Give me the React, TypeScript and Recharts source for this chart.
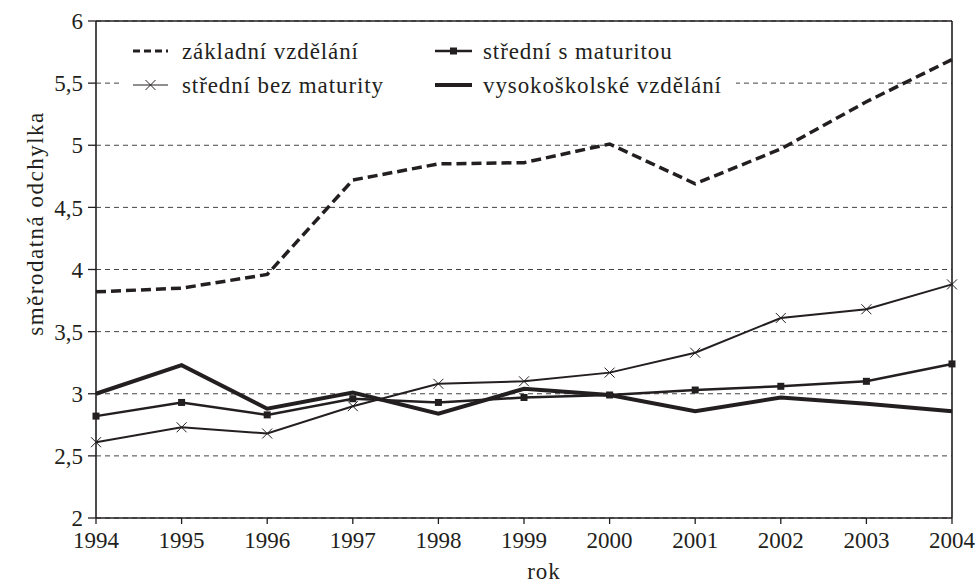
import {
  CartesianGrid,
  Legend,
  Line,
  LineChart,
  ReferenceLine,
  XAxis,
  YAxis,
} from "recharts";

const years = [1994, 1995, 1996, 1997, 1998, 1999, 2000, 2001, 2002, 2003, 2004];
const zakladni = [3.82, 3.85, 3.96, 4.72, 4.85, 4.86, 5.01, 4.69, 4.97, 5.35, 5.69];
const bezMaturity = [2.61, 2.73, 2.68, 2.9, 3.08, 3.1, 3.17, 3.33, 3.61, 3.68, 3.88];
const sMaturitou = [2.82, 2.93, 2.83, 2.96, 2.93, 2.97, 2.99, 3.03, 3.06, 3.1, 3.24];
const vysokoskolske = [3.0, 3.23, 2.88, 3.01, 2.84, 3.04, 2.99, 2.86, 2.97, 2.92, 2.86];
const yTicks = [2, 2.5, 3, 3.5, 4, 4.5, 5, 5.5, 6];

const data = years.map((rok, i) => ({
  rok,
  zakladni: zakladni[i],
  bezMaturity: bezMaturity[i],
  sMaturitou: sMaturitou[i],
  vysokoskolske: vysokoskolske[i],
}));

const INK = "#231f20";
const FONT = "'Liberation Serif', 'Times New Roman', serif";

const comma = (v: number) => String(v).replace(".", ",");

const Cross = (p: any) => {
  if (p.cx == null || p.cy == null) return <g key={p.key} />;
  const s = 5;
  return (
    <g key={p.key} stroke={INK} strokeWidth={1}>
      <line x1={p.cx - s} y1={p.cy - s} x2={p.cx + s} y2={p.cy + s} />
      <line x1={p.cx - s} y1={p.cy + s} x2={p.cx + s} y2={p.cy - s} />
    </g>
  );
};

const Square = (p: any) => {
  if (p.cx == null || p.cy == null) return <g key={p.key} />;
  return <rect key={p.key} x={p.cx - 3.5} y={p.cy - 3.5} width={7} height={7} fill={INK} />;
};

// legend drawn as one svg block with a white box behind it (hides the grid line)
function LegendBox() {
  const txt = { fontFamily: FONT, fontSize: 23, fill: INK, letterSpacing: 0.9 };
  return (
    <svg width={614} height={74} style={{ display: "block" }}>
      <rect x={0} y={0} width={614} height={74} fill="#fff" />
      <line x1={11} x2={46} y1={25} y2={25} stroke={INK} strokeWidth={3} strokeDasharray="7 4" />
      <text x={60} y={25} dominantBaseline="central" {...txt}>základní vzdělání</text>
      <line x1={11} x2={46} y1={59} y2={59} stroke={INK} strokeWidth={1.2} />
      <Cross cx={28.5} cy={59} />
      <text x={60} y={59} dominantBaseline="central" {...txt}>střední bez maturity</text>
      <line x1={313} x2={350} y1={25} y2={25} stroke={INK} strokeWidth={2.5} />
      <Square cx={331.5} cy={25} />
      <text x={361} y={25} dominantBaseline="central" {...txt}>střední s maturitou</text>
      <line x1={313} x2={350} y1={59} y2={59} stroke={INK} strokeWidth={4} />
      <text x={361} y={59} dominantBaseline="central" {...txt}>vysokoškolské vzdělání</text>
    </svg>
  );
}

const YLabel = (props: any) => {
  const vb = props.viewBox;
  const x = 35;
  const y = vb.y + vb.height / 2 - 46;
  return (
    <text
      x={x}
      y={y}
      transform={`rotate(-90, ${x}, ${y})`}
      textAnchor="middle"
      dominantBaseline="central"
      fontFamily={FONT}
      fontSize={23}
      letterSpacing={1.5}
      fill={INK}
    >
      směrodatná odchylka
    </text>
  );
};

const XLabel = (props: any) => {
  const vb = props.viewBox;
  return (
    <text
      x={vb.x + vb.width / 2 + 20}
      y={579}
      textAnchor="middle"
      fontFamily={FONT}
      fontSize={23}
      letterSpacing={1}
      fill={INK}
    >
      rok
    </text>
  );
};

export default function App() {
  const tick = { fontFamily: FONT, fontSize: 23, fill: INK };
  return (
    <div style={{ position: "absolute", left: 0, top: 0, width: 976, height: 586, background: "#fff" }}>
      <LineChart
        width={976}
        height={586}
        data={data}
        margin={{ top: 21, right: 24, left: 0, bottom: 0 }}
      >
        <CartesianGrid
          vertical={false}
          stroke="#444"
          strokeDasharray="5 4"
          strokeWidth={1}
        />
        <XAxis
          dataKey="rok"
          type="number"
          domain={[1994, 2004]}
          ticks={years}
          height={68}
          tick={tick}
          tickSize={6}
          tickMargin={8}
          stroke={INK}
          strokeWidth={1.6}
          tickLine={{ stroke: INK, strokeWidth: 1.3 }}
          label={<XLabel />}
        />
        <YAxis
          type="number"
          domain={[2, 6]}
          ticks={yTicks}
          width={96}
          tick={tick}
          tickSize={8}
          tickMargin={5}
          tickFormatter={comma}
          stroke={INK}
          strokeWidth={1.6}
          tickLine={{ stroke: INK, strokeWidth: 1.3 }}
          label={<YLabel />}
        />
        <ReferenceLine y={6} stroke={INK} strokeWidth={1.6} />
        <ReferenceLine x={2004} stroke={INK} strokeWidth={1.6} />
        <Line
          dataKey="vysokoskolske"
          stroke={INK}
          strokeWidth={4}
          dot={false}
          activeDot={false}
          isAnimationActive={false}
        />
        <Line
          dataKey="sMaturitou"
          stroke={INK}
          strokeWidth={2.5}
          dot={Square}
          activeDot={false}
          isAnimationActive={false}
        />
        <Line
          dataKey="bezMaturity"
          stroke={INK}
          strokeWidth={2}
          dot={Cross}
          activeDot={false}
          isAnimationActive={false}
        />
        <Line
          dataKey="zakladni"
          stroke={INK}
          strokeWidth={3.5}
          strokeDasharray="10 5"
          dot={false}
          activeDot={false}
          isAnimationActive={false}
        />
        <Legend
          layout="horizontal"
          verticalAlign="middle"
          align="center"
          wrapperStyle={{ top: 26, left: 122, width: 614, height: 74 }}
          content={() => <LegendBox />}
        />
      </LineChart>
    </div>
  );
}
